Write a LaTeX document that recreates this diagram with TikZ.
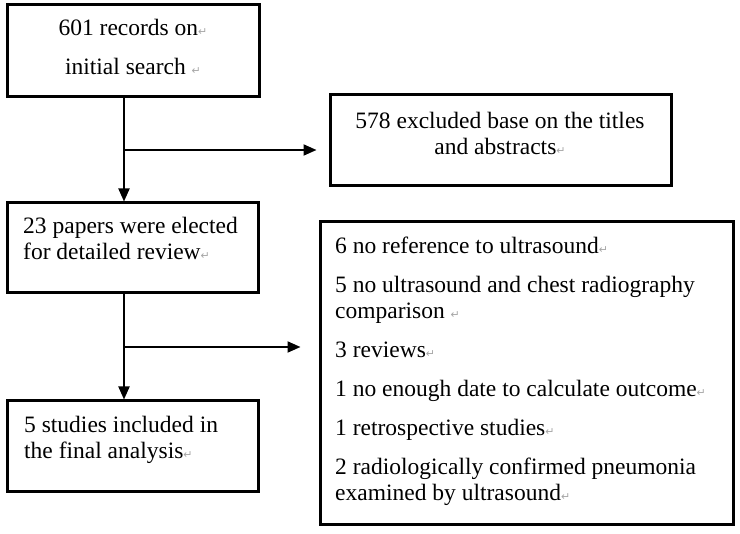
\documentclass[tikz,border=0pt]{standalone}
\usepackage{fontspec}
\setmainfont{Liberation Serif}
\newfontfamily\symfont{DejaVu Sans}
\usetikzlibrary{arrows.meta}
\newcommand{\retmark}{{\color{gray!70}\symfont\fontsize{11}{11}\selectfont ↵}}

\begin{document}
\begin{tikzpicture}[x=1pt,y=1pt,yscale=-1,
  box/.style={draw,line width=3pt,inner sep=0pt},
  txt/.style={inner sep=0pt,font=\fontsize{23.5}{26}\selectfont},
  arr/.style={line width=2pt,-{Triangle[length=13pt,width=11pt]}}]
\useasboundingbox (0,0) rectangle (740,534);
% boxes
\node[box,minimum width=252,minimum height=92] (rec) at (133,51) {};
\node[box,minimum width=251,minimum height=90] (rev) at (132.5,248) {};
\node[box,minimum width=251,minimum height=91] (fin) at (132.5,446.5) {};
\node[box,minimum width=341,minimum height=91] (exA) at (500.5,140.5) {};
\node[box,minimum width=413,minimum height=303] (exB) at (526.5,373.5) {};
% texts
\node[txt,anchor=north,align=center] (recT) at (133,18.6) {601 records on\retmark\\[13pt]initial search \retmark};
\node[txt,anchor=north west,align=left] (revT) at (23,216.6) {23 papers were elected\\for detailed review\retmark};
\node[txt,anchor=north west,align=left] (finT) at (24,415.6) {5 studies included in\\the final analysis\retmark};
\node[txt,anchor=north,align=center] (exAT) at (500,111.6) {578 excluded base on the titles\\and abstracts\retmark};
\node[txt,anchor=north west,align=left] (exBT) at (335,236.6) {6 no reference to ultrasound\retmark\\[13pt]5 no ultrasound and chest radiography\\comparison \retmark\\[13pt]3 reviews\retmark\\[13pt]1 no enough date to calculate outcome\retmark\\[13pt]1 retrospective studies\retmark\\[13pt]2 radiologically confirmed pneumonia\\examined by ultrasound\retmark};
% connectors
\coordinate (stem) at (124,0);
\coordinate (b1) at (124,150);
\coordinate (b2) at (124,347);
\draw[arr] (rec.south -| stem) -- (rev.north -| stem);
\draw[arr] (rev.south -| stem) -- (fin.north -| stem);
\draw[arr,shorten >=12pt] (b1) -- (b1 -| exA.west);
\draw[arr,shorten >=18pt] (b2) -- (b2 -| exB.west);
\end{tikzpicture}
\end{document}
